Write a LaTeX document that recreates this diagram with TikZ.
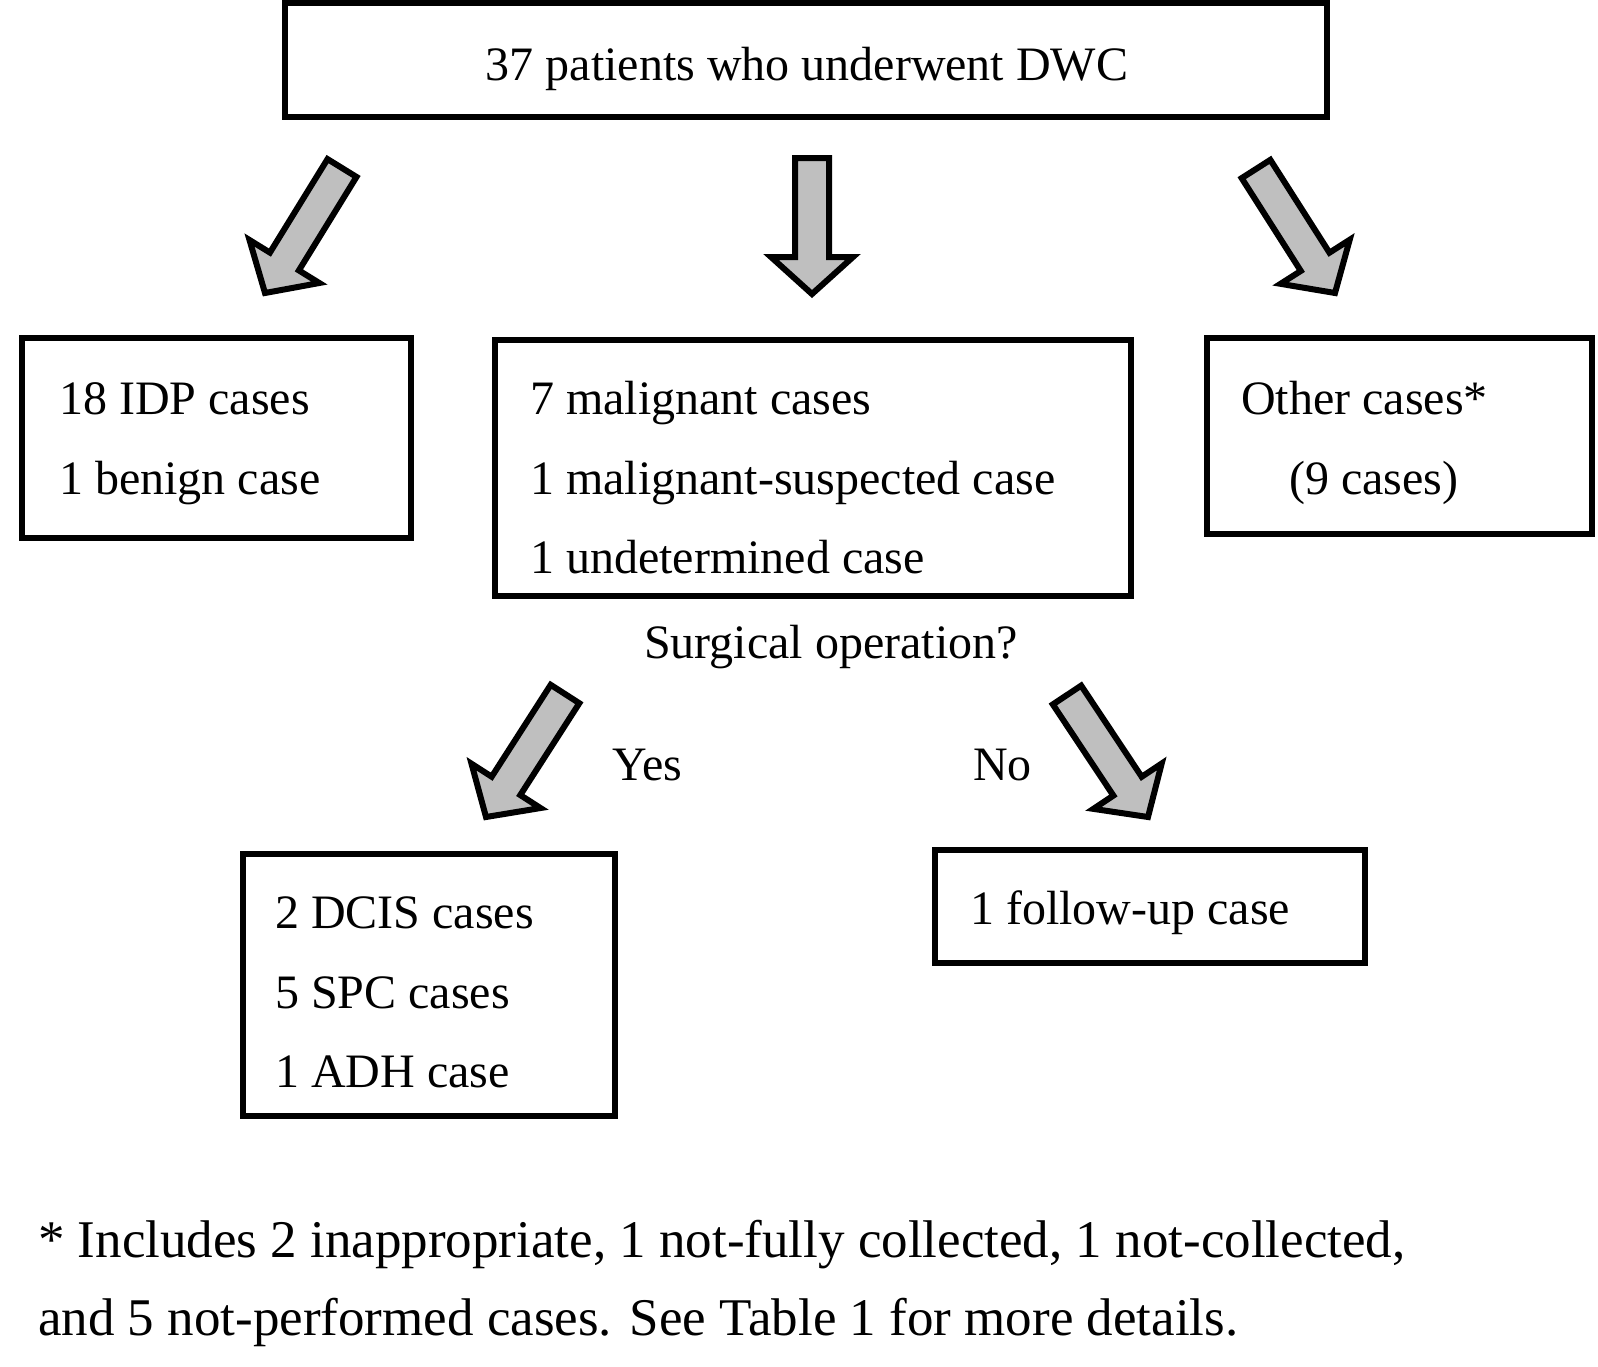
\documentclass[tikz,border=0pt]{standalone}
\usepackage{fontspec}
\setmainfont{Liberation Serif}
\usetikzlibrary{calc}
\tikzset{
  box/.style={draw=black, line width=6.5pt, fill=white},
  txt/.style={anchor=base west, inner sep=0pt, font=\fontsize{48}{58}\selectfont},
  ctxt/.style={anchor=base, inner sep=0pt, font=\fontsize{48}{58}\selectfont},
  foot/.style={anchor=base west, inner sep=0pt, font=\fontsize{53}{64}\selectfont},
  barrow/.style={draw=black, line width=6pt, fill=black!25, line join=miter},
}
\newcommand\blockarr[3]{% #1 tail, #2 tip, #3 prefix
  \coordinate (#3b) at ($(#2)!37pt!(#1)$);
  \draw[barrow] ($(#1)!17pt!90:(#2)$) -- ($(#3b)!17pt!-90:(#1)$) -- ($(#3b)!41pt!-90:(#1)$)
     -- (#2) -- ($(#3b)!41pt!90:(#1)$) -- ($(#3b)!17pt!90:(#1)$) -- ($(#1)!17pt!-90:(#2)$) -- cycle;
}
\begin{document}
\begin{tikzpicture}[x=1pt,y=1pt]
\useasboundingbox (0,0) rectangle (1598,-1366);
% boxes
\draw[box] (285,-3) rectangle (1327,-117);
\draw[box] (22,-338) rectangle (411,-538);
\draw[box] (495,-340) rectangle (1131,-596);
\draw[box] (1207,-338) rectangle (1592,-534);
\draw[box] (243,-854) rectangle (615,-1116);
\draw[box] (935,-850) rectangle (1365,-963);
% texts
\node[ctxt] (title) at (807,-80) {37 patients who underwent DWC};
\node[txt] (idp1) at (59,-414) {18 IDP cases};
\node[txt] (idp2) at (59,-494) {1 benign case};
\node[txt] (mal1) at (530,-414) {7 malignant cases};
\node[txt] (mal2) at (530,-494) {1 malignant-suspected case};
\node[txt] (mal3) at (530,-573) {1 undetermined case};
\node[txt] (oth1) at (1241,-414) {Other cases*};
\node[txt] (oth2) at (1289,-494) {(9 cases)};
\node[ctxt] (surg) at (831,-658) {Surgical operation?};
\node[txt] (yes) at (612,-780) {Yes};
\node[txt] (no) at (973,-780) {No};
\node[txt] (dcis1) at (275,-928) {2 DCIS cases};
\node[txt] (dcis2) at (275,-1008) {5 SPC cases};
\node[txt] (dcis3) at (275,-1087) {1 ADH case};
\node[txt] (fu) at (970,-924) {1 follow-up case};
\node[foot] (fn1) at (38,-1257) {* Includes 2 inappropriate, 1 not-fully collected, 1 not-collected,};
\node[foot] (fn2) at (38,-1335) {and 5 not-performed cases. See Table 1 for more details.};
% arrows
\coordinate (t1) at (342,-168); \coordinate (h1) at (265,-293);
\coordinate (t2) at (812,-158); \coordinate (h2) at (812,-294);
\coordinate (t3) at (1256,-169); \coordinate (h3) at (1335,-293);
\coordinate (t4) at (565,-694); \coordinate (h4) at (486,-817);
\coordinate (t5) at (1067,-695); \coordinate (h5) at (1148,-817);
\blockarr{t1}{h1}{a1}
\blockarr{t2}{h2}{a2}
\blockarr{t3}{h3}{a3}
\blockarr{t4}{h4}{a4}
\blockarr{t5}{h5}{a5}
\end{tikzpicture}
\end{document}
